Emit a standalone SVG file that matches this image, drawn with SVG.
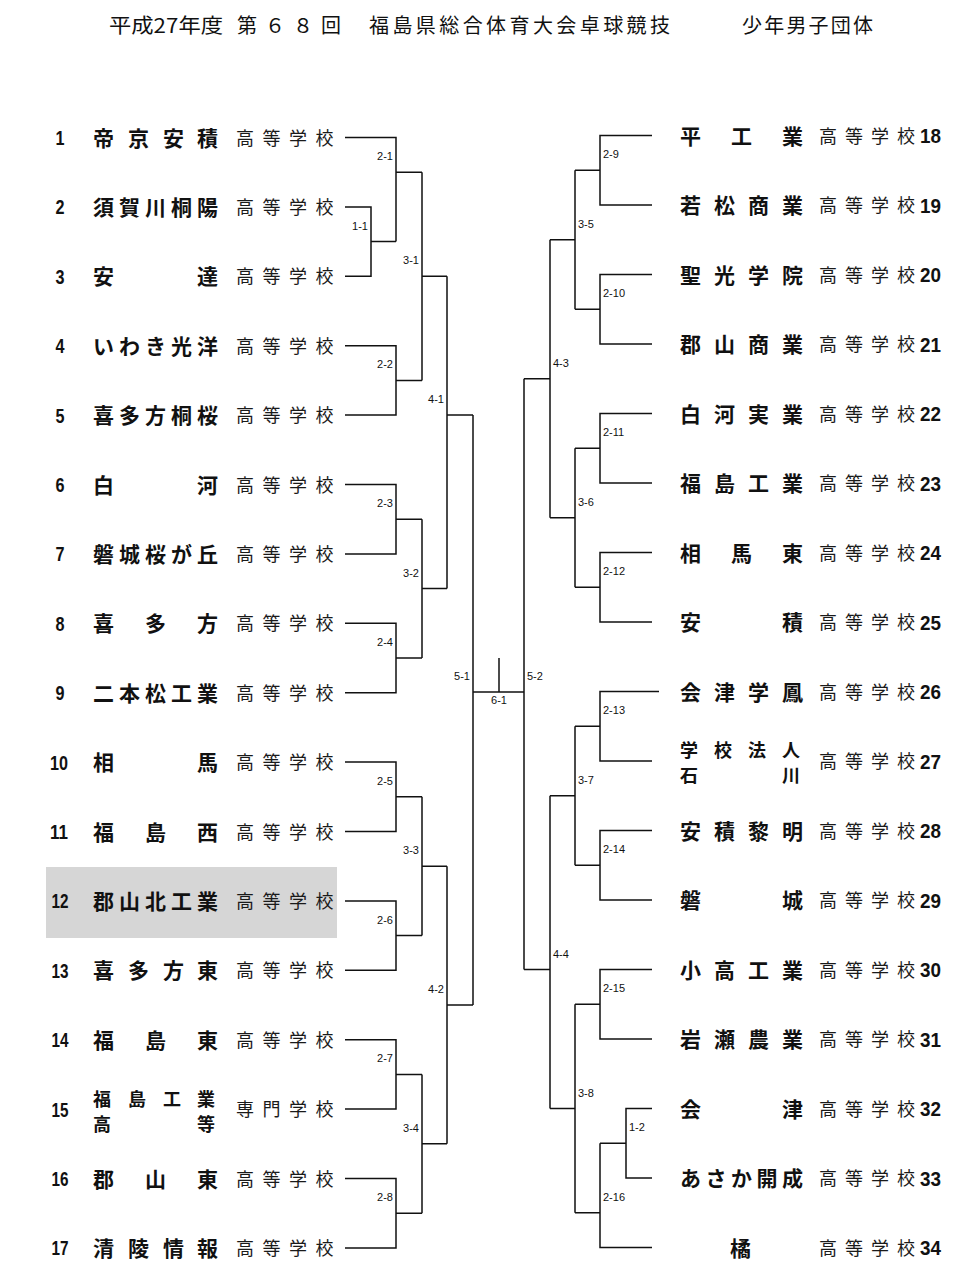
<svg xmlns="http://www.w3.org/2000/svg" width="980" height="1280" viewBox="0 0 980 1280">
<style>
.bg{fill:#ffffff}
.ln{fill:none;stroke:#111;stroke-width:1.5}
.nm{font-family:"Noto Sans CJK JP","Noto Sans CJK SC",sans-serif;font-weight:700;font-size:21px;fill:#111}
.nm2{font-family:"Noto Sans CJK JP","Noto Sans CJK SC",sans-serif;font-weight:700;font-size:18px;fill:#111}
.sc{font-family:"Noto Sans CJK JP","Noto Sans CJK SC",sans-serif;font-size:18px;fill:#1a1a1a}
.no{font-family:"Liberation Sans",Arial,sans-serif;font-weight:700;font-size:20px;fill:#111}
.lb{font-family:"Liberation Sans",Arial,sans-serif;font-size:11px;fill:#111}
.tt{font-family:"Noto Sans CJK JP","Noto Sans CJK SC",sans-serif;font-size:20px;fill:#111}
.hl{fill:#d6d6d6}
</style>
<rect class="bg" x="0" y="0" width="980" height="1280"/>
<g id="title">
<text class="tt" x="109" y="33" textLength="114" lengthAdjust="spacingAndGlyphs">平成27年度</text>
<text class="tt" x="237" y="33" textLength="104" lengthAdjust="spacing">第６８回</text>
<text class="tt" x="369" y="33" textLength="301" lengthAdjust="spacing">福島県総合体育大会卓球競技</text>
<text class="tt" x="742" y="33" textLength="131" lengthAdjust="spacing">少年男子団体</text>
</g>
<rect class="hl" x="46" y="867" width="291" height="71"/>
<g id="connectors">
<path class="ln" d="M345 137.5H396V241.6 M345 206.9H371V276.3H345 M371 241.6H396 M396 172.2H422
M345 345.7H396V415.1H345 M396 380.4H422
M345 484.5H396V553.9H345 M396 519.2H422
M345 623.3H396V692.7H345 M396 658H422
M345 762.1H396V831.5H345 M396 796.8H422
M345 900.9H396V970.3H345 M396 935.6H422
M345 1039.7H396V1109.1H345 M396 1074.4H422
M345 1178.5H396V1247.9H345 M396 1213.2H422
M422 172.2V380.4 M422 276.3H447
M422 519.2V658 M422 588.6H447
M422 796.8V935.6 M422 866.2H447
M422 1074.4V1213.2 M422 1143.8H447
M447 276.3V588.6 M447 415.1H473
M447 866.2V1143.8 M447 1005H473
M473 415.1V1005 M473 692H524 M499 658V692 M524 378.75V969.5
M652 135.5H600V205H652 M600 170.25H575
M652 274.5H600V344H652 M600 309.25H575
M652 413.5H600V483H652 M600 448.25H575
M652 552.5H600V622H652 M600 587.25H575
M659 691.5H600V761H652 M600 726.25H575
M652 830.5H600V900H652 M600 865.25H575
M652 969.5H600V1039H652 M600 1004.25H575
M652 1108.5H626V1178H652 M626 1143.25H600
M652 1247.5H600V1143.25 M600 1212.75H575
M575 170.25V309.25 M575 239.75H550
M575 448.25V587.25 M575 517.75H550
M575 726.25V865.25 M575 795.75H550
M575 1004.25V1212.75 M575 1108.5H550
M550 239.75V517.75 M550 378.75H524
M550 795.75V1108.5 M550 969.5H524"/>
<g text-anchor="end">
<text class="lb" x="368" y="229.6">1-1</text>
<text class="lb" x="393" y="160.2">2-1</text>
<text class="lb" x="393" y="368.4">2-2</text>
<text class="lb" x="393" y="507.2">2-3</text>
<text class="lb" x="393" y="646">2-4</text>
<text class="lb" x="393" y="784.8">2-5</text>
<text class="lb" x="393" y="923.6">2-6</text>
<text class="lb" x="393" y="1062.4">2-7</text>
<text class="lb" x="393" y="1201.2">2-8</text>
<text class="lb" x="419" y="264.3">3-1</text>
<text class="lb" x="419" y="576.6">3-2</text>
<text class="lb" x="419" y="854.2">3-3</text>
<text class="lb" x="419" y="1131.8">3-4</text>
<text class="lb" x="444" y="403.1">4-1</text>
<text class="lb" x="444" y="993">4-2</text>
<text class="lb" x="470" y="680">5-1</text>
</g>
<text class="lb" x="499" y="704" text-anchor="middle">6-1</text>
<g>
<text class="lb" x="603" y="158.25">2-9</text>
<text class="lb" x="603" y="297.25">2-10</text>
<text class="lb" x="603" y="436.25">2-11</text>
<text class="lb" x="603" y="575.25">2-12</text>
<text class="lb" x="603" y="714.25">2-13</text>
<text class="lb" x="603" y="853.25">2-14</text>
<text class="lb" x="603" y="992.25">2-15</text>
<text class="lb" x="629" y="1131.25">1-2</text>
<text class="lb" x="603" y="1200.75">2-16</text>
<text class="lb" x="578" y="227.75">3-5</text>
<text class="lb" x="578" y="505.75">3-6</text>
<text class="lb" x="578" y="783.75">3-7</text>
<text class="lb" x="578" y="1096.5">3-8</text>
<text class="lb" x="553" y="366.75">4-3</text>
<text class="lb" x="553" y="957.5">4-4</text>
<text class="lb" x="527" y="680">5-2</text>
</g>
</g>
<g id="team1"><text class="no" x="60" y="145" text-anchor="middle" textLength="9" lengthAdjust="spacingAndGlyphs">1</text><text class="nm" x="93 128 163 197" y="145.5">帝京安積</text><text class="sc" x="236 262.5 289 315.5" y="144.5">高等学校</text></g>
<g id="team2"><text class="no" x="60" y="214.4" text-anchor="middle" textLength="9" lengthAdjust="spacingAndGlyphs">2</text><text class="nm" x="93 119 145 171 197" y="214.9">須賀川桐陽</text><text class="sc" x="236 262.5 289 315.5" y="213.9">高等学校</text></g>
<g id="team3"><text class="no" x="60" y="283.8" text-anchor="middle" textLength="9" lengthAdjust="spacingAndGlyphs">3</text><text class="nm" x="93 197" y="284.3">安達</text><text class="sc" x="236 262.5 289 315.5" y="283.3">高等学校</text></g>
<g id="team4"><text class="no" x="60" y="353.2" text-anchor="middle" textLength="9" lengthAdjust="spacingAndGlyphs">4</text><text class="nm" x="93 119 145 171 197" y="353.7">いわき光洋</text><text class="sc" x="236 262.5 289 315.5" y="352.7">高等学校</text></g>
<g id="team5"><text class="no" x="60" y="422.6" text-anchor="middle" textLength="9" lengthAdjust="spacingAndGlyphs">5</text><text class="nm" x="93 119 145 171 197" y="423.1">喜多方桐桜</text><text class="sc" x="236 262.5 289 315.5" y="422.1">高等学校</text></g>
<g id="team6"><text class="no" x="60" y="492" text-anchor="middle" textLength="9" lengthAdjust="spacingAndGlyphs">6</text><text class="nm" x="93 197" y="492.5">白河</text><text class="sc" x="236 262.5 289 315.5" y="491.5">高等学校</text></g>
<g id="team7"><text class="no" x="60" y="561.4" text-anchor="middle" textLength="9" lengthAdjust="spacingAndGlyphs">7</text><text class="nm" x="93 119 145 171 197" y="561.9">磐城桜が丘</text><text class="sc" x="236 262.5 289 315.5" y="560.9">高等学校</text></g>
<g id="team8"><text class="no" x="60" y="630.8" text-anchor="middle" textLength="9" lengthAdjust="spacingAndGlyphs">8</text><text class="nm" x="93 145 197" y="631.3">喜多方</text><text class="sc" x="236 262.5 289 315.5" y="630.3">高等学校</text></g>
<g id="team9"><text class="no" x="60" y="700.2" text-anchor="middle" textLength="9" lengthAdjust="spacingAndGlyphs">9</text><text class="nm" x="93 119 145 171 197" y="700.7">二本松工業</text><text class="sc" x="236 262.5 289 315.5" y="699.7">高等学校</text></g>
<g id="team10"><text class="no" x="59" y="769.6" text-anchor="middle" textLength="18" lengthAdjust="spacingAndGlyphs">10</text><text class="nm" x="93 197" y="770.1">相馬</text><text class="sc" x="236 262.5 289 315.5" y="769.1">高等学校</text></g>
<g id="team11"><text class="no" x="59" y="839" text-anchor="middle" textLength="18" lengthAdjust="spacingAndGlyphs">11</text><text class="nm" x="93 145 197" y="839.5">福島西</text><text class="sc" x="236 262.5 289 315.5" y="838.5">高等学校</text></g>
<g id="team12"><text class="no" x="60" y="908.4" text-anchor="middle" textLength="17" lengthAdjust="spacingAndGlyphs" fill="#333">12</text><text class="nm" x="93 119 145 171 197" y="908.9">郡山北工業</text><text class="sc" x="236 262.5 289 315.5" y="907.9" fill="#333">高等学校</text></g>
<g id="team13"><text class="no" x="60" y="977.8" text-anchor="middle" textLength="17" lengthAdjust="spacingAndGlyphs">13</text><text class="nm" x="93 128 163 197" y="978.3">喜多方東</text><text class="sc" x="236 262.5 289 315.5" y="977.3">高等学校</text></g>
<g id="team14"><text class="no" x="60" y="1047.2" text-anchor="middle" textLength="17" lengthAdjust="spacingAndGlyphs">14</text><text class="nm" x="93 145 197" y="1047.7">福島東</text><text class="sc" x="236 262.5 289 315.5" y="1046.7">高等学校</text></g>
<g id="team15"><text class="no" x="60" y="1116.6" text-anchor="middle" textLength="17" lengthAdjust="spacingAndGlyphs">15</text><text class="nm2" x="93 128 163 197" y="1106" >福島工業</text><text class="nm2" x="93 197" y="1131">高等</text><text class="sc" x="236 262.5 289 315.5" y="1116.1">専門学校</text></g>
<g id="team16"><text class="no" x="60" y="1186" text-anchor="middle" textLength="17" lengthAdjust="spacingAndGlyphs">16</text><text class="nm" x="93 145 197" y="1186.5">郡山東</text><text class="sc" x="236 262.5 289 315.5" y="1185.5">高等学校</text></g>
<g id="team17"><text class="no" x="60" y="1255.4" text-anchor="middle" textLength="17" lengthAdjust="spacingAndGlyphs">17</text><text class="nm" x="93 128 163 197" y="1255.9">清陵情報</text><text class="sc" x="236 262.5 289 315.5" y="1254.9">高等学校</text></g>
<g id="team18"><text class="nm" x="680 731 782" y="143.5">平工業</text><text class="sc" x="819 845 871 897" y="142.5">高等学校</text><text class="no" x="920" y="143" textLength="21" lengthAdjust="spacingAndGlyphs">18</text></g>
<g id="team19"><text class="nm" x="680 714 748 782" y="213">若松商業</text><text class="sc" x="819 845 871 897" y="212">高等学校</text><text class="no" x="920" y="212.5" textLength="21" lengthAdjust="spacingAndGlyphs">19</text></g>
<g id="team20"><text class="nm" x="680 714 748 782" y="282.5">聖光学院</text><text class="sc" x="819 845 871 897" y="281.5">高等学校</text><text class="no" x="920" y="282" textLength="21" lengthAdjust="spacingAndGlyphs">20</text></g>
<g id="team21"><text class="nm" x="680 714 748 782" y="352">郡山商業</text><text class="sc" x="819 845 871 897" y="351">高等学校</text><text class="no" x="920" y="351.5" textLength="21" lengthAdjust="spacingAndGlyphs">21</text></g>
<g id="team22"><text class="nm" x="680 714 748 782" y="421.5">白河実業</text><text class="sc" x="819 845 871 897" y="420.5">高等学校</text><text class="no" x="920" y="421" textLength="21" lengthAdjust="spacingAndGlyphs">22</text></g>
<g id="team23"><text class="nm" x="680 714 748 782" y="491">福島工業</text><text class="sc" x="819 845 871 897" y="490">高等学校</text><text class="no" x="920" y="490.5" textLength="21" lengthAdjust="spacingAndGlyphs">23</text></g>
<g id="team24"><text class="nm" x="680 731 782" y="560.5">相馬東</text><text class="sc" x="819 845 871 897" y="559.5">高等学校</text><text class="no" x="920" y="560" textLength="21" lengthAdjust="spacingAndGlyphs">24</text></g>
<g id="team25"><text class="nm" x="680 782" y="630">安積</text><text class="sc" x="819 845 871 897" y="629">高等学校</text><text class="no" x="920" y="629.5" textLength="21" lengthAdjust="spacingAndGlyphs">25</text></g>
<g id="team26"><text class="nm" x="680 714 748 782" y="699.5">会津学鳳</text><text class="sc" x="819 845 871 897" y="698.5">高等学校</text><text class="no" x="920" y="699" textLength="21" lengthAdjust="spacingAndGlyphs">26</text></g>
<g id="team27"><text class="nm2" x="680 714 748 782" y="757">学校法人</text><text class="nm2" x="680 782" y="782">石川</text><text class="sc" x="819 845 871 897" y="768">高等学校</text><text class="no" x="920" y="768.5" textLength="21" lengthAdjust="spacingAndGlyphs">27</text></g>
<g id="team28"><text class="nm" x="680 714 748 782" y="838.5">安積黎明</text><text class="sc" x="819 845 871 897" y="837.5">高等学校</text><text class="no" x="920" y="838" textLength="21" lengthAdjust="spacingAndGlyphs">28</text></g>
<g id="team29"><text class="nm" x="680 782" y="908">磐城</text><text class="sc" x="819 845 871 897" y="907">高等学校</text><text class="no" x="920" y="907.5" textLength="21" lengthAdjust="spacingAndGlyphs">29</text></g>
<g id="team30"><text class="nm" x="680 714 748 782" y="977.5">小高工業</text><text class="sc" x="819 845 871 897" y="976.5">高等学校</text><text class="no" x="920" y="977" textLength="21" lengthAdjust="spacingAndGlyphs">30</text></g>
<g id="team31"><text class="nm" x="680 714 748 782" y="1047">岩瀬農業</text><text class="sc" x="819 845 871 897" y="1046">高等学校</text><text class="no" x="920" y="1046.5" textLength="21" lengthAdjust="spacingAndGlyphs">31</text></g>
<g id="team32"><text class="nm" x="680 782" y="1116.5">会津</text><text class="sc" x="819 845 871 897" y="1115.5">高等学校</text><text class="no" x="920" y="1116" textLength="21" lengthAdjust="spacingAndGlyphs">32</text></g>
<g id="team33"><text class="nm" x="680 705.5 731 756.5 782" y="1186">あさか開成</text><text class="sc" x="819 845 871 897" y="1185">高等学校</text><text class="no" x="920" y="1185.5" textLength="21" lengthAdjust="spacingAndGlyphs">33</text></g>
<g id="team34"><text class="nm" x="730" y="1255.5">橘</text><text class="sc" x="819 845 871 897" y="1254.5">高等学校</text><text class="no" x="920" y="1255" textLength="21" lengthAdjust="spacingAndGlyphs">34</text></g>
</svg>
